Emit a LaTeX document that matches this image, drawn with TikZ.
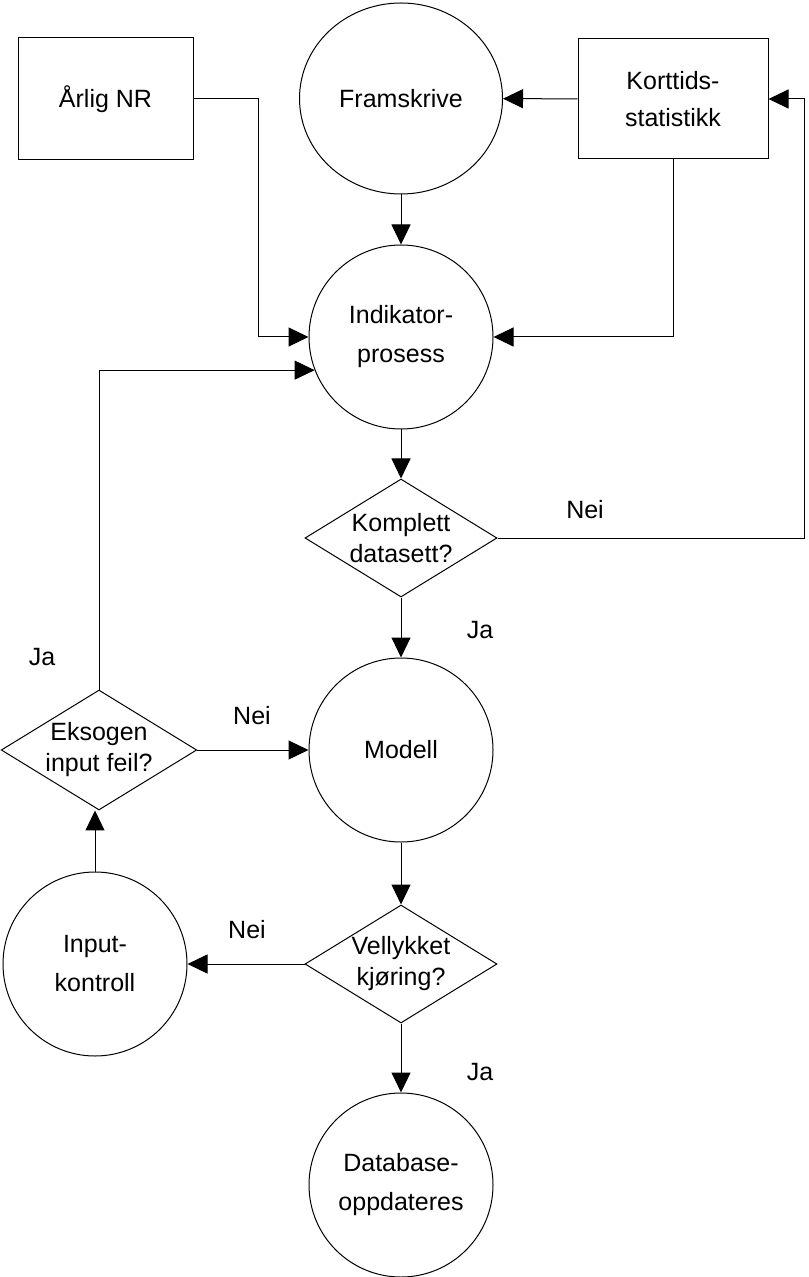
\documentclass[tikz,border=0pt]{standalone}
\usepackage{fontspec}
\setmainfont{Liberation Sans}
\usetikzlibrary{arrows.meta,shapes.geometric}

\begin{document}
\begin{tikzpicture}[
  x=0.5pt, y=-0.5pt,
  line width=0.5pt,
  every node/.style={font=\fontsize{12.5}{19.5}\selectfont},
  proc/.style={circle, draw, minimum size=92pt, inner sep=0pt, align=center},
  source/.style={rectangle, draw, inner sep=0pt, align=center,
    font=\fontsize{12.5}{18.5}\selectfont},
  decision/.style={diamond, draw, shape aspect=1.63, minimum width=96pt,
    minimum height=59pt, inner sep=0pt, align=center,
    font=\fontsize{12.5}{15.5}\selectfont},
  link/.style={draw, -{Triangle[length=10pt,width=9.5pt]}}
]
\useasboundingbox (0,0) rectangle (808,1277);

% sources and process steps
\node[source, minimum width=87.5pt, minimum height=61pt] (aarlig) at (105.5,99) {Årlig NR};
\node[ellipse, draw, minimum width=101.5pt, minimum height=95.5pt, inner sep=0pt] (framskrive) at (401,98.5) {Framskrive};
\node[source, minimum width=95pt, minimum height=60pt] (korttid) at (673,99) {Korttids-\\statistikk};
\node[proc] (indikator) at (401,337) {Indikator-\\prosess};
\node[decision] (komplett) at (401,538) {Komplett\\datasett?};
\node[proc] (modell) at (401,750) {Modell};
\node[decision] (eksogen) at (99,750) {Eksogen\\input feil?};
\node[decision] (vellykket) at (401,964) {Vellykket\\kjøring?};
\node[proc] (input) at (95,964) {Input-\\kontroll};
\node[proc] (database) at (401,1185) {Database-\\oppdateres};

% answers
\node (neiKomplett) at (585,510) {Nei};
\node (jaKomplett) at (480,630) {Ja};
\node (neiEksogen) at (252,716) {Nei};
\node (jaEksogen) at (42,657) {Ja};
\node (neiVellykket) at (247,930) {Nei};
\node (jaVellykket) at (480,1072) {Ja};

% connectors
\draw[link] (korttid) -- (framskrive);
\draw[link] (framskrive) -- (indikator);
\draw[link] (aarlig.east) -- ++(65,0) |- (indikator.west);
\draw[link] (korttid.south) |- (indikator.east);
\draw[link] (indikator) -- (komplett);
\draw[link] (komplett.east) -- ++(307,0) |- (korttid.east);
\draw[link] (komplett) -- (modell);
\draw[link] (eksogen) -- (modell);
\draw[link] (eksogen.north) |- (indikator.201);
\draw[link] (modell) -- (vellykket);
\draw[link] (vellykket) -- (input);
\draw[link] (input) -- (input |- eksogen.south);
\draw[link] (vellykket) -- (database);
\end{tikzpicture}
\end{document}
